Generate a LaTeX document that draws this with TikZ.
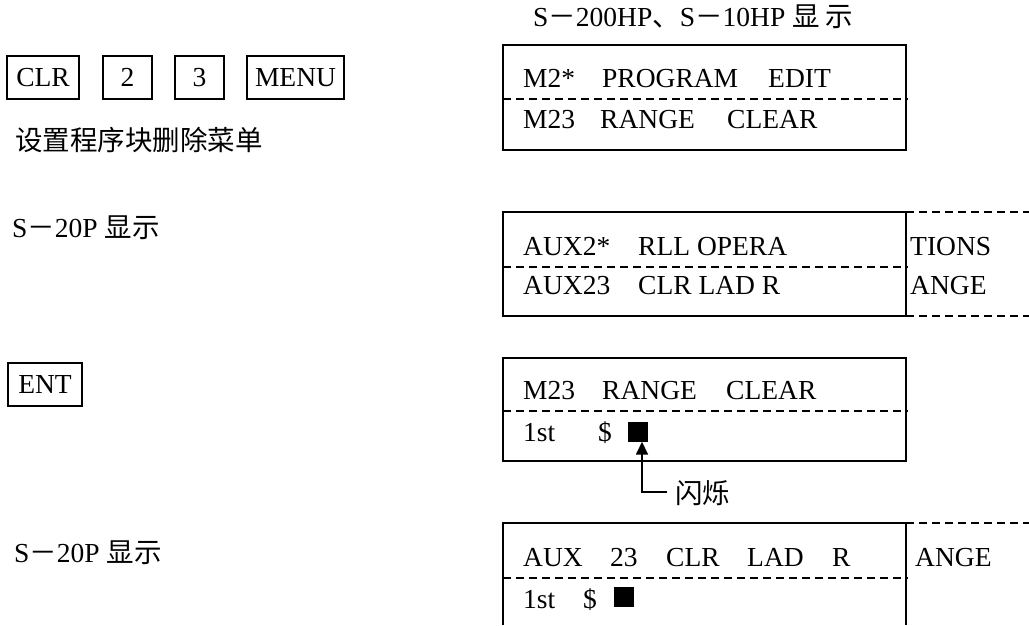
\documentclass[tikz,border=0pt]{standalone}
\usepackage{fontspec}
\setmainfont{Liberation Serif}
\newfontfamily\cjk{Noto Sans CJK SC}
\usetikzlibrary{arrows.meta}
\tikzset{
  keybox/.style={draw, line width=1.5pt, inner sep=0pt, minimum height=43pt},
  disp/.style={line width=1.6pt},
  sep/.style={line width=1.3pt, dash pattern=on 8pt off 5pt},
  txt/.style={anchor=base west, inner sep=0pt},
  cursor/.style={fill=black, minimum size=20pt, inner sep=0pt},
}
\begin{document}
\begin{tikzpicture}[x=1pt,y=-1pt,font=\fontsize{27.5}{30}\selectfont]
\useasboundingbox (0,0) rectangle (1029,625);
% keys
\node[keybox, minimum width=72pt] (clr) at (43,77.5) {CLR};
\node[keybox, minimum width=49pt] (k2) at (127.5,77.5) {2};
\node[keybox, minimum width=49pt] (k3) at (199.5,77.5) {3};
\node[keybox, minimum width=97pt] (menu) at (295.5,77.5) {MENU};
\node[keybox, minimum width=74pt] (ent) at (45,384.5) {ENT};
% left labels
\node[txt] (l1) at (15,150) {\cjk 设置程序块删除菜单};
\node[txt] (l2) at (12,237) {S{\cjk －}20P {\cjk 显示}};
\node[txt] (l3) at (14,562) {S{\cjk －}20P {\cjk 显示}};
% title
\node[txt] (title) at (533,26) {S{\cjk －}200HP{\cjk 、}S{\cjk －}10HP {\cjk 显\ 示}};
% display 1
\draw[disp] (503,45) rectangle (906,150);
\draw[sep] (503,99) -- (908,99);
\node[txt] at (523,87) {M2*};
\node[txt] at (602,87) {PROGRAM};
\node[txt] at (768,87) {EDIT};
\node[txt] at (523,128) {M23};
\node[txt] at (600,128) {RANGE};
\node[txt] at (727,128) {CLEAR};
% display 2
\draw[disp] (503,212) rectangle (906,316);
\draw[sep] (503,267) -- (908,267);
\draw[sep] (906,212) -- (1029,212);
\draw[sep] (906,316) -- (1029,316);
\node[txt] at (523,255) {AUX2*};
\node[txt] at (638,255) {RLL OPERA};
\node[txt] at (523,294) {AUX23};
\node[txt] at (638,294) {CLR LAD R};
\node[txt] at (910,255) {TIONS};
\node[txt] at (910,294) {ANGE};
% display 3
\draw[disp] (503,358) rectangle (906,461);
\draw[sep] (503,411) -- (908,411);
\node[txt] at (523,399) {M23};
\node[txt] at (602,399) {RANGE};
\node[txt] at (726,399) {CLEAR};
\node[txt] at (523,441) {1st};
\node[txt] at (598,441) {\$};
\node[cursor] (sq3) at (638,431.5) {};
\node[txt] (flash) at (675,503) {\cjk 闪烁};
\coordinate (fl) at (667,492);
\draw[line width=1.6pt, -{Triangle[length=13pt,width=12pt]}] (fl) -| ([xshift=4pt]sq3.south);
% display 4
\draw[disp] (503,625) -- (503,523) -- (906,523) -- (906,625);
\draw[sep] (503,578) -- (908,578);
\draw[sep] (906,523) -- (1029,523);
\node[txt] at (523,566) {AUX};
\node[txt] at (610,566) {23};
\node[txt] at (666,566) {CLR};
\node[txt] at (747,566) {LAD};
\node[txt] at (832,566) {R};
\node[txt] at (915,566) {ANGE};
\node[txt] at (523,608) {1st};
\node[txt] at (583,608) {\$};
\node[cursor] (sq4) at (624,597) {};
\end{tikzpicture}
\end{document}
